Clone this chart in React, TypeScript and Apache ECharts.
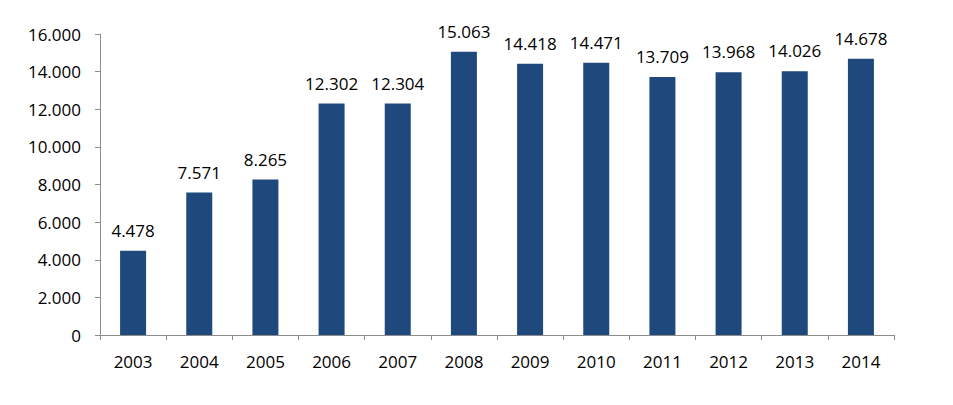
import React, { useEffect, useRef } from "react";
import * as echarts from "echarts";

const categories = ["2003", "2004", "2005", "2006", "2007", "2008", "2009", "2010", "2011", "2012", "2013", "2014"];
const values = [4478, 7571, 8265, 12302, 12304, 15063, 14418, 14471, 13709, 13968, 14026, 14678];

const fmt = (v: number) => String(Math.round(v)).replace(/\B(?=(\d{3})+(?!\d))/g, ".");

export default function App() {
  const ref = useRef<HTMLDivElement>(null);
  useEffect(() => {
    document.body.style.margin = "0";
    const chart = echarts.init(ref.current!, undefined, { renderer: "svg" });
    const font = "'Open Sans', Lato, sans-serif";
    chart.setOption({
      animation: false,
      grid: { left: 100, right: 59, top: 34, bottom: 70 },
      xAxis: {
        type: "category",
        data: categories,
        axisLine: { lineStyle: { color: "#8c8c8c", width: 1 } },
        axisTick: { show: true, length: 5, lineStyle: { color: "#8c8c8c" } },
        axisLabel: { color: "#000", fontSize: 17, fontFamily: font, margin: 18 },
      },
      yAxis: {
        type: "value",
        min: 0,
        max: 16000,
        interval: 2000,
        splitLine: { show: false },
        axisLine: { show: true, lineStyle: { color: "#8c8c8c", width: 1 } },
        axisTick: { show: true, length: 5, lineStyle: { color: "#8c8c8c" } },
        axisLabel: { color: "#000", fontSize: 17, fontFamily: font, margin: 19, formatter: (v: number) => fmt(v) },
      },
      series: [
        {
          type: "bar",
          data: values,
          barWidth: 26,
          itemStyle: { color: "#1F497D" },
          label: {
            show: true,
            position: "top",
            distance: 12,
            color: "#000",
            fontSize: 17,
            fontFamily: font,
            formatter: (p: any) => fmt(p.value),
          },
        },
      ],
    });
    return () => chart.dispose();
  }, []);
  return <div ref={ref} style={{ width: 953, height: 405 }} />;
}
